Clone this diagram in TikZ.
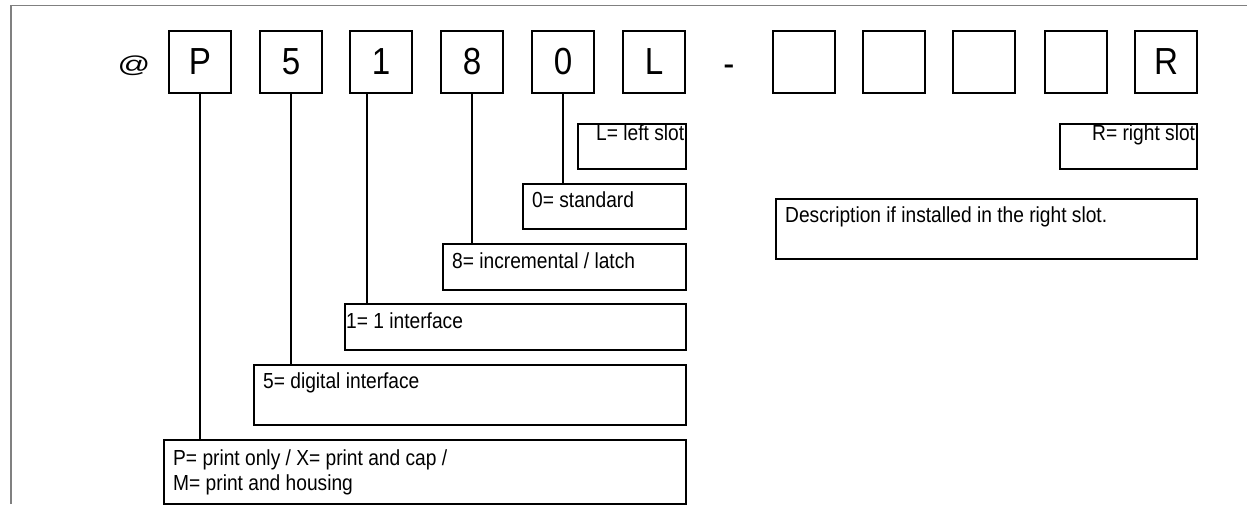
\documentclass[tikz,border=0pt]{standalone}
\usepackage{fontspec}
\usepackage{tikz}
\newfontfamily\slotfont[FakeStretch=0.88]{Liberation Sans}
\newfontfamily\atfont{Liberation Sans}
\tikzset{
  codebox/.style={draw,line width=2pt,minimum width=62pt,minimum height=62pt,inner sep=0pt,font=\slotfont\fontsize{37.7}{40}\selectfont},
  descbox/.style={draw,line width=2pt,inner sep=0pt,anchor=north west},
  desctext/.style={anchor=base west,inner sep=0pt,align=left,font=\slotfont\fontsize{21.8}{25}\selectfont},
  lead/.style={line width=2pt},
  frame/.style={draw=gray,line width=1.5pt}
}
\begin{document}
\begin{tikzpicture}[x=1pt,y=-1pt]
\useasboundingbox (0,0) rectangle (1247,504);
\draw[frame] (11,504) -- (11,5.5) -- (1247,5.5);
\node[inner sep=0pt,font=\atfont\fontsize{23}{25}\selectfont] (at) at (134,65.5) {\scalebox{1.4}[1]{@}};
\node[codebox] (p)     at (200,62)  {P};
\node[codebox] (five)  at (291,62)  {5};
\node[codebox] (one)   at (381,62)  {1};
\node[codebox] (eight) at (472,62)  {8};
\node[codebox] (zero)  at (563,62)  {0};
\node[codebox] (l)     at (654,62)  {L};
\node[anchor=base,inner sep=0pt,font=\slotfont\fontsize{37.7}{40}\selectfont] (dash) at (729,76) {-};
\node[codebox] (slota) at (804,62)  {};
\node[codebox] (slotb) at (894,62)  {};
\node[codebox] (slotc) at (984,62)  {};
\node[codebox] (slotd) at (1076,62) {};
\node[codebox] (r)     at (1166,62) {R};
\node[descbox,minimum width=108pt,minimum height=45pt] (ldesc) at (577,123) {};
\node[descbox,minimum width=137pt,minimum height=45pt] (rdesc) at (1059,123) {};
\node[descbox,minimum width=163pt,minimum height=45pt] (zerodesc) at (522,183) {};
\node[descbox,minimum width=243pt,minimum height=46pt] (eightdesc) at (442,243) {};
\node[descbox,minimum width=341pt,minimum height=46pt] (onedesc) at (344,303) {};
\node[descbox,minimum width=432pt,minimum height=60pt] (fivedesc) at (253,364) {};
\node[descbox,minimum width=522pt,minimum height=64pt] (pdesc) at (163,439) {};
\node[descbox,minimum width=421pt,minimum height=60pt] (infodesc) at (775,198) {};
\begin{scope}
\clip (ldesc.north west) rectangle (ldesc.south east);
\node[desctext] (ltext) at ([shift={(19pt,-17pt)}]ldesc.north west) {L= left slot};
\end{scope}
\begin{scope}
\clip (rdesc.north west) rectangle (rdesc.south east);
\node[desctext] (rtext) at ([shift={(33pt,-17pt)}]rdesc.north west) {R= right slot};
\end{scope}
\node[desctext] (zerotext) at ([shift={(10pt,-24pt)}]zerodesc.north west) {0= standard};
\node[desctext] (eighttext) at ([shift={(10pt,-25pt)}]eightdesc.north west) {8= incremental / latch};
\node[desctext] (onetext) at ([shift={(2pt,-25pt)}]onedesc.north west) {1= 1 interface};
\node[desctext] (fivetext) at ([shift={(10pt,-24pt)}]fivedesc.north west) {5= digital interface};
\node[desctext] (ptext) at ([shift={(10pt,-51pt)}]pdesc.north west) {P= print only / X= print and cap /\\M= print and housing};
\node[desctext] (infotext) at ([shift={(10pt,-24pt)}]infodesc.north west) {Description if installed in the right slot.};
\draw[lead] (p.south) -- (p.south |- pdesc.north);
\draw[lead] (five.south) -- (five.south |- fivedesc.north);
\draw[lead] ([xshift=-14pt]one.south) -- ([xshift=-14pt]one.south |- onedesc.north);
\draw[lead] (eight.south) -- (eight.south |- eightdesc.north);
\draw[lead] (zero.south) -- (zero.south |- zerodesc.north);
\end{tikzpicture}
\end{document}
